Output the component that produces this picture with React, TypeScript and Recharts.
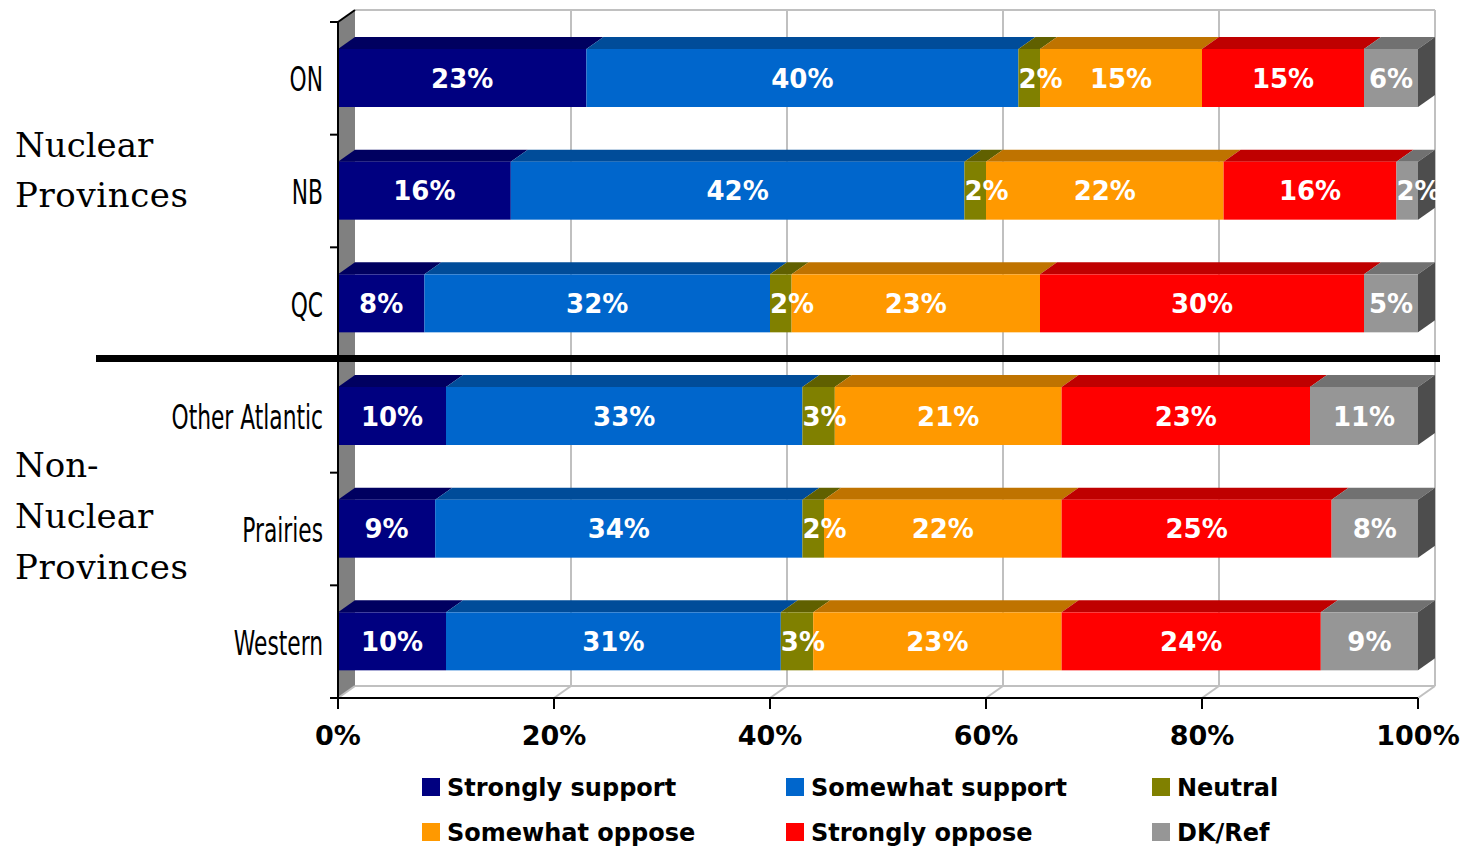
import React from 'react'
import { BarChart, Bar, XAxis, YAxis, CartesianGrid, LabelList, Legend } from 'recharts'

const regions = ['ON', 'NB', 'QC', 'Other Atlantic', 'Prairies', 'Western']
const stronglySupport = [23, 16, 8, 10, 9, 10]
const somewhatSupport = [40, 42, 32, 33, 34, 31]
const neutral = [2, 2, 2, 3, 2, 3]
const somewhatOppose = [15, 22, 23, 21, 22, 23]
const stronglyOppose = [15, 16, 30, 23, 25, 24]
// DK/Ref segment widths as drawn, and the (rounded) labels printed on them
const dkRef = [5, 2, 5, 10, 8, 9]
const dkRefLabels = [6, 2, 5, 11, 8, 9]
const xTicks = [0, 0.2, 0.4, 0.6, 0.8, 1]

const series = [
  { key: 'ss', name: 'Strongly support', values: stronglySupport, front: '#000080', top: '#000060' },
  { key: 'sws', name: 'Somewhat support', values: somewhatSupport, front: '#0066cc', top: '#004c99' },
  { key: 'neu', name: 'Neutral', values: neutral, front: '#808000', top: '#606000' },
  { key: 'swo', name: 'Somewhat oppose', values: somewhatOppose, front: '#ff9900', top: '#bf7300' },
  { key: 'so', name: 'Strongly oppose', values: stronglyOppose, front: '#ff0000', top: '#bf0000' },
  { key: 'dk', name: 'DK/Ref', values: dkRef, front: '#969696', top: '#717171' },
]

const data = regions.map((region, i) => {
  const row: Record<string, any> = { region, dkLabel: dkRefLabels[i] }
  series.forEach((s) => (row[s.key] = s.values[i]))
  return row
})

// depth of the fake 3D box
const DX = 17
const DY = 12
const GRID = '#c0c0c0'
const SANS = "'DejaVu Sans', sans-serif"

function box(front: string, top: string, side: string | null) {
  return (p: any) => {
    const { x, y, width, height } = p
    if (!width || width <= 0) return <g />
    return (
      <g>
        <polygon
          points={`${x},${y} ${x + DX},${y - DY} ${x + width + DX},${y - DY} ${x + width},${y}`}
          fill={top}
        />
        {side && (
          <polygon
            points={`${x + width},${y} ${x + width + DX},${y - DY} ${x + width + DX},${y + height - DY} ${x + width},${y + height}`}
            fill={side}
          />
        )}
        <rect x={x} y={y} width={width} height={height} fill={front} />
      </g>
    )
  }
}

function barLabel(p: any) {
  const { x, y, width, height, value } = p
  const txt = `${value}%`
  const textW = txt.length === 2 ? 44 : 62
  const fits = textW <= width
  return (
    <text
      x={fits ? x + width / 2 : x}
      y={y + height / 2 + 9.5}
      textAnchor={fits ? 'middle' : 'start'}
      fill="#fff"
      fontFamily={SANS}
      fontWeight="bold"
      fontSize={26}
    >
      {txt}
    </text>
  )
}

function gridVertical(p: any) {
  const { x1, y1, y2, index } = p
  return (
    <g key={`v-${index}`}>
      {index === 0 && (
        <>
          <polygon
            points={`${x1},${y1} ${x1 + DX},${y1 - DY} ${x1 + DX},${y2 - DY} ${x1},${y2}`}
            fill="#808080"
          />
          <line x1={x1} y1={y1} x2={x1 + DX} y2={y1 - DY} stroke="#000" strokeWidth={2} />
        </>
      )}
      {index > 0 && (
        <line x1={x1 + DX} y1={y1 - DY} x2={x1 + DX} y2={y2 - DY} stroke={GRID} strokeWidth={2} />
      )}
      <line x1={x1 + DX} y1={y2 - DY} x2={x1} y2={y2} stroke={GRID} strokeWidth={2} />
    </g>
  )
}

function gridHorizontal(p: any) {
  const { x1, x2, y1, index } = p
  return (
    <line key={`h-${index}`} x1={x1 + DX} y1={y1} x2={x2 + DX} y2={y1} stroke={GRID} strokeWidth={2} />
  )
}

function XTick(p: any) {
  const { x, y, payload } = p
  return (
    <text x={x} y={y + 34} textAnchor="middle" fontFamily={SANS} fontWeight="bold" fontSize={27} fill="#000">
      {`${Math.round(payload.value * 100)}%`}
    </text>
  )
}

function YTick(p: any) {
  const { x, y, payload, index } = p
  const half = payload.offset ?? 56.3
  const axisX = x + 15
  return (
    <g>
      <line x1={axisX - 8} y1={y - half} x2={axisX} y2={y - half} stroke="#000" strokeWidth={2} />
      {index === regions.length - 1 && (
        <line x1={axisX - 8} y1={y + half} x2={axisX} y2={y + half} stroke="#000" strokeWidth={2} />
      )}
      <text
        transform={`translate(${axisX - 15}, ${y + 13}) scale(0.66, 1)`}
        textAnchor="end"
        fontFamily={SANS}
        fontSize={33}
        fill="#000"
      >
        {payload.value}
      </text>
    </g>
  )
}

const legendCols = [422, 786, 1152]
const legendRows = [796, 841]

function LegendBox() {
  return (
    <svg width={1466} height={848} style={{ position: 'absolute', left: 0, top: 0, pointerEvents: 'none' }}>
      {series.map((s, i) => {
        const lx = legendCols[i % 3]
        const ly = legendRows[Math.floor(i / 3)]
        return (
          <g key={s.key}>
            <rect x={lx} y={ly - 18} width={18} height={18} fill={s.front} />
            <text x={lx + 25} y={ly} fontFamily={SANS} fontWeight="bold" fontSize={24} fill="#000">
              {s.name}
            </text>
          </g>
        )
      })}
    </svg>
  )
}

export default function App() {
  return (
    <div style={{ position: 'absolute', left: 0, top: 0, width: 1466, height: 848, background: '#fff' }}>
      <BarChart
        width={1466}
        height={848}
        data={data}
        layout="vertical"
        stackOffset="expand"
        barSize={58}
        margin={{ top: 22, right: 48, bottom: 110, left: 0 }}
      >
        <CartesianGrid
          vertical={gridVertical}
          horizontal={gridHorizontal}
          horizontalCoordinatesGenerator={({ offset }: any) => [
            offset.top - DY,
            offset.top + offset.height - DY,
          ]}
        />
        <XAxis
          type="number"
          domain={[0, 1]}
          ticks={xTicks}
          interval={0}
          height={40}
          tickSize={11}
          axisLine={{ stroke: '#000', strokeWidth: 2 }}
          tickLine={{ stroke: '#000', strokeWidth: 2 }}
          tick={<XTick />}
        />
        <YAxis
          type="category"
          dataKey="region"
          width={338}
          interval={0}
          tickSize={8}
          tickMargin={7}
          tickLine={false}
          axisLine={{ stroke: '#000', strokeWidth: 2 }}
          tick={<YTick />}
        />
        <Legend
          content={() => <LegendBox />}
          wrapperStyle={{ position: 'absolute', left: 0, top: 0, bottom: 'auto', width: 0, height: 0 }}
        />
        {series.map((s, i) => (
          <Bar
            key={s.key}
            dataKey={s.key}
            name={s.name}
            stackId="a"
            fill={s.front}
            isAnimationActive={false}
            shape={box(s.front, s.top, i === series.length - 1 ? '#4d4d4d' : null)}
          >
            <LabelList dataKey={s.key === 'dk' ? 'dkLabel' : s.key} content={barLabel} />
          </Bar>
        ))}
      </BarChart>
      <svg width={1466} height={848} style={{ position: 'absolute', left: 0, top: 0, pointerEvents: 'none' }}>
        <line x1={96} y1={358.5} x2={1440} y2={358.5} stroke="#000" strokeWidth={7} />
        <g fontFamily="'DejaVu Serif', serif" fontSize={34} fill="#000">
          <text x={15} y={157}>Nuclear</text>
          <text x={15} y={207} letterSpacing={0.6}>Provinces</text>
          <text x={15} y={477}>Non-</text>
          <text x={15} y={528}>Nuclear</text>
          <text x={15} y={579} letterSpacing={0.6}>Provinces</text>
        </g>
      </svg>
    </div>
  )
}
